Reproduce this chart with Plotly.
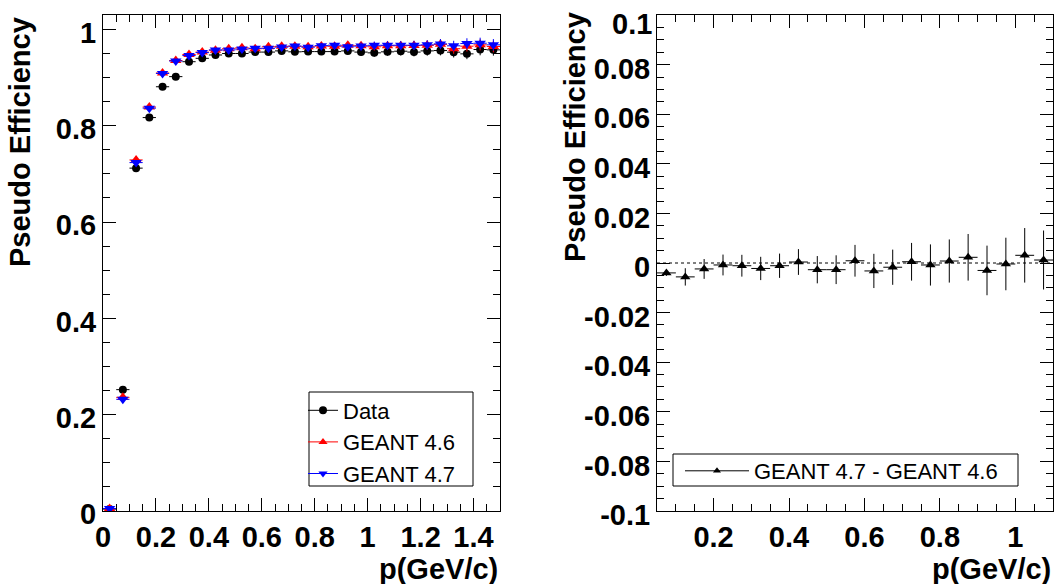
import plotly.graph_objects as go

# ---- binned efficiency vs momentum (bin width 0.05 GeV/c) ----
p_centers = [0.025, 0.075, 0.125, 0.175, 0.225, 0.275, 0.325, 0.375, 0.425, 0.475,
             0.525, 0.575, 0.625, 0.675, 0.725, 0.775, 0.825, 0.875, 0.925, 0.975,
             1.025, 1.075, 1.125, 1.175, 1.225, 1.275, 1.325, 1.375, 1.425, 1.475]
half_bin = [0.025] * len(p_centers)

eff_data = [0.004, 0.252, 0.712, 0.817, 0.881, 0.902, 0.933, 0.940, 0.947, 0.950,
            0.950, 0.953, 0.953, 0.9555, 0.9535, 0.954, 0.954, 0.954, 0.9555, 0.953,
            0.9514, 0.9535, 0.9548, 0.953, 0.9555, 0.9562, 0.9528, 0.9493, 0.9583, 0.9576]
err_data = [0.001, 0.003, 0.003, 0.003, 0.003, 0.003, 0.003, 0.003, 0.004, 0.004,
            0.004, 0.005, 0.005, 0.005, 0.006, 0.006, 0.006, 0.007, 0.007, 0.008,
            0.008, 0.008, 0.009, 0.009, 0.010, 0.010, 0.011, 0.011, 0.012, 0.012]

eff_g46 = [0.005, 0.236, 0.729, 0.839, 0.9095, 0.9355, 0.948, 0.953, 0.957, 0.960,
           0.962, 0.960, 0.964, 0.965, 0.965, 0.964, 0.9655, 0.965, 0.967, 0.966,
           0.964, 0.966, 0.966, 0.9665, 0.967, 0.969, 0.960, 0.9652, 0.968, 0.9645]
eff_g47 = [0.005, 0.232, 0.7235, 0.8366, 0.9087, 0.9344, 0.9458, 0.9519, 0.9574, 0.9573,
           0.9593, 0.9609, 0.9608, 0.9633, 0.9655, 0.9632, 0.9663, 0.9673, 0.964, 0.9656,
           0.9671, 0.9672, 0.9673, 0.9673, 0.968, 0.970, 0.966, 0.9707, 0.9714, 0.968]
err_mc = [0.001, 0.0009, 0.0025, 0.0028, 0.0030, 0.0031, 0.0033, 0.0035, 0.0037, 0.0039,
          0.0041, 0.0045, 0.0049, 0.0050, 0.0054, 0.0059, 0.0062, 0.0067, 0.0071, 0.0075,
          0.0078, 0.0084, 0.0088, 0.0092, 0.0097, 0.0100, 0.0105, 0.0110, 0.0115, 0.0120]

# ---- GEANT 4.7 minus GEANT 4.6 ----
p_diff = [0.075, 0.125, 0.175, 0.225, 0.275, 0.325, 0.375, 0.425, 0.475, 0.525,
          0.575, 0.625, 0.675, 0.725, 0.775, 0.825, 0.875, 0.925, 0.975, 1.025, 1.075]
diff_half_bin = [0.025] * len(p_diff)
diff_val = [-0.0040, -0.0056, -0.0024, -0.0008, -0.0011, -0.0022, -0.0011, 0.0004, -0.0027, -0.0027,
            0.0009, -0.0032, -0.0017, 0.0005, -0.0008, 0.0008, 0.0023, -0.0030, -0.0004, 0.0031, 0.0012]
diff_err = [0.0012, 0.0035, 0.0040, 0.0042, 0.0044, 0.0047, 0.0049, 0.0052, 0.0055, 0.0058,
            0.0064, 0.0069, 0.0071, 0.0076, 0.0083, 0.0087, 0.0094, 0.0100, 0.0106, 0.0110, 0.0119]

# ---- axis labels ----
left_xticks = [0, 0.2, 0.4, 0.6, 0.8, 1.0, 1.2, 1.4]
left_xtext = ["0", "0.2", "0.4", "0.6", "0.8", "1", "1.2", "1.4"]
left_yticks = [0, 0.2, 0.4, 0.6, 0.8, 1.0]
left_ytext = ["0", "0.2", "0.4", "0.6", "0.8", "1"]
right_xticks = [0.2, 0.4, 0.6, 0.8, 1.0]
right_xtext = ["0.2", "0.4", "0.6", "0.8", "1"]
right_yticks = [-0.1, -0.08, -0.06, -0.04, -0.02, 0, 0.02, 0.04, 0.06, 0.08, 0.1]
right_ytext = ["-0.1", "-0.08", "-0.06", "-0.04", "-0.02", "0", "0.02", "0.04", "0.06", "0.08", "0.1"]

W, H = 1057, 584
FONT = "Liberation Sans, Arial, Helvetica, sans-serif"


def px_x(px):
    return px / W


def px_y(py):
    return 1 - py / H


fig = go.Figure()


def err_trace(x, y, ex, ey, color, symbol, size, name, xa, ya):
    return go.Scatter(
        x=x, y=y, mode="markers", name=name, showlegend=False,
        marker=dict(color=color, symbol=symbol, size=size, line=dict(width=0)),
        error_x=dict(type="data", array=ex, symmetric=True, width=0, thickness=1, color=color),
        error_y=dict(type="data", array=ey, symmetric=True, width=0, thickness=1, color=color),
        xaxis=xa, yaxis=ya,
    )


fig.add_trace(err_trace(p_centers, eff_data, half_bin, err_data, "black", "circle", 8, "Data", "x", "y"))
fig.add_trace(err_trace(p_centers, eff_g46, half_bin, err_mc, "red", "triangle-up", 10, "GEANT 4.6", "x", "y"))
fig.add_trace(err_trace(p_centers, eff_g47, half_bin, err_mc, "blue", "triangle-down", 10, "GEANT 4.7", "x", "y"))
fig.add_trace(err_trace(p_diff, diff_val, diff_half_bin, diff_err, "black", "triangle-up", 9,
                        "GEANT 4.7 - GEANT 4.6", "x2", "y2"))

# legend entries (line + marker, as in the histogram legends)
for name, color, symbol, size, leg in [("Data", "black", "circle", 8, "legend"),
                                       ("GEANT 4.6", "red", "triangle-up", 8, "legend"),
                                       ("GEANT 4.7", "blue", "triangle-down", 8, "legend"),
                                       ("GEANT 4.7 - GEANT 4.6", "black", "triangle-up", 7, "legend2")]:
    fig.add_trace(go.Scatter(
        x=[None], y=[None], mode="lines+markers", name=name, legend=leg,
        line=dict(color=color, width=1),
        marker=dict(color=color, symbol=symbol, size=size),
        xaxis="x2" if leg == "legend2" else "x", yaxis="y2" if leg == "legend2" else "y",
    ))

# dashed zero line in the difference panel
fig.add_shape(type="line", xref="x2", yref="y2", x0=0.05, x1=1.1, y0=0, y1=0,
              line=dict(color="black", width=1, dash="3px,3px"))

# legend frames
for x0, y0, x1, y1 in [(309, 392, 473, 486), (673, 454, 1018, 486)]:
    fig.add_shape(type="rect", xref="paper", yref="paper",
                  x0=px_x(x0), x1=px_x(x1), y0=px_y(y1), y1=px_y(y0),
                  line=dict(color="black", width=1), fillcolor="white", layer="above")

tickfont = dict(family=FONT, size=29, color="black", weight="bold")
axis_common = dict(
    showline=True, linecolor="black", linewidth=1, mirror="ticks",
    ticks="inside", ticklen=13, tickwidth=1, tickcolor="black",
    showgrid=False, zeroline=False, tickfont=tickfont,
)

# the top label of the difference axis is pulled down inside the page
right_ytext_axis = right_ytext[:-1] + [""]

y_dom = [px_y(511), px_y(15)]
fig.update_layout(
    width=W, height=H,
    margin=dict(l=0, r=0, t=0, b=0, autoexpand=False),
    paper_bgcolor="white", plot_bgcolor="white",
    xaxis=dict(domain=[px_x(103), px_x(500)], range=[0, 1.5], anchor="y",
               tickmode="array", tickvals=left_xticks, ticktext=left_xtext,
               minor=dict(dtick=0.05, tick0=0, ticklen=7, tickcolor="black", ticks="inside"),
               **axis_common),
    yaxis=dict(domain=y_dom, range=[0, 1.03], anchor="x",
               tickmode="array", tickvals=left_yticks, ticktext=left_ytext, ticklabelshift=3,
               minor=dict(dtick=0.05, tick0=0, ticklen=7, tickcolor="black", ticks="inside"),
               **axis_common),
    xaxis2=dict(domain=[px_x(657), px_x(1053)], range=[0.05, 1.1], anchor="y2",
                tickmode="array", tickvals=right_xticks, ticktext=right_xtext,
                minor=dict(dtick=0.05, tick0=0, ticklen=7, tickcolor="black", ticks="inside"),
                **axis_common),
    yaxis2=dict(domain=y_dom, range=[-0.10001, 0.10001], anchor="x2",
                tickmode="array", tickvals=right_yticks, ticktext=right_ytext_axis, ticklabelshift=4,
                minor=dict(dtick=0.005, tick0=0, ticklen=7, tickcolor="black", ticks="inside"),
                **axis_common),
    legend=dict(x=px_x(303), y=px_y(389.5), xanchor="left", yanchor="top",
                bgcolor="rgba(0,0,0,0)", borderwidth=0,
                font=dict(family=FONT, size=22, color="black")),
    legend2=dict(x=px_x(680), y=px_y(450), xanchor="left", yanchor="top",
                 bgcolor="rgba(0,0,0,0)", borderwidth=0, itemwidth=64,
                 font=dict(family=FONT, size=22, color="black")),
    showlegend=True,
)

title_font = dict(family=FONT, size=29, color="black", weight="bold")
annotations = [
    dict(text="Pseudo Efficiency", x=px_x(20), y=px_y(142), textangle=-90, xanchor="center"),
    dict(text="Pseudo Efficiency", x=px_x(575), y=px_y(137), textangle=-90, xanchor="center"),
    dict(text=right_ytext[-1], x=px_x(654), y=px_y(24), xanchor="right"),
]
for a in annotations:
    fig.add_annotation(xref="paper", yref="paper", showarrow=False, font=title_font,
                       yanchor="middle", **a)
for xr in [500, 1053]:
    fig.add_annotation(text="p(GeV/c)", xref="paper", yref="paper", x=px_x(xr), y=px_y(569),
                       xanchor="right", yanchor="middle", showarrow=False, font=title_font)

fig.write_html("out.html")
